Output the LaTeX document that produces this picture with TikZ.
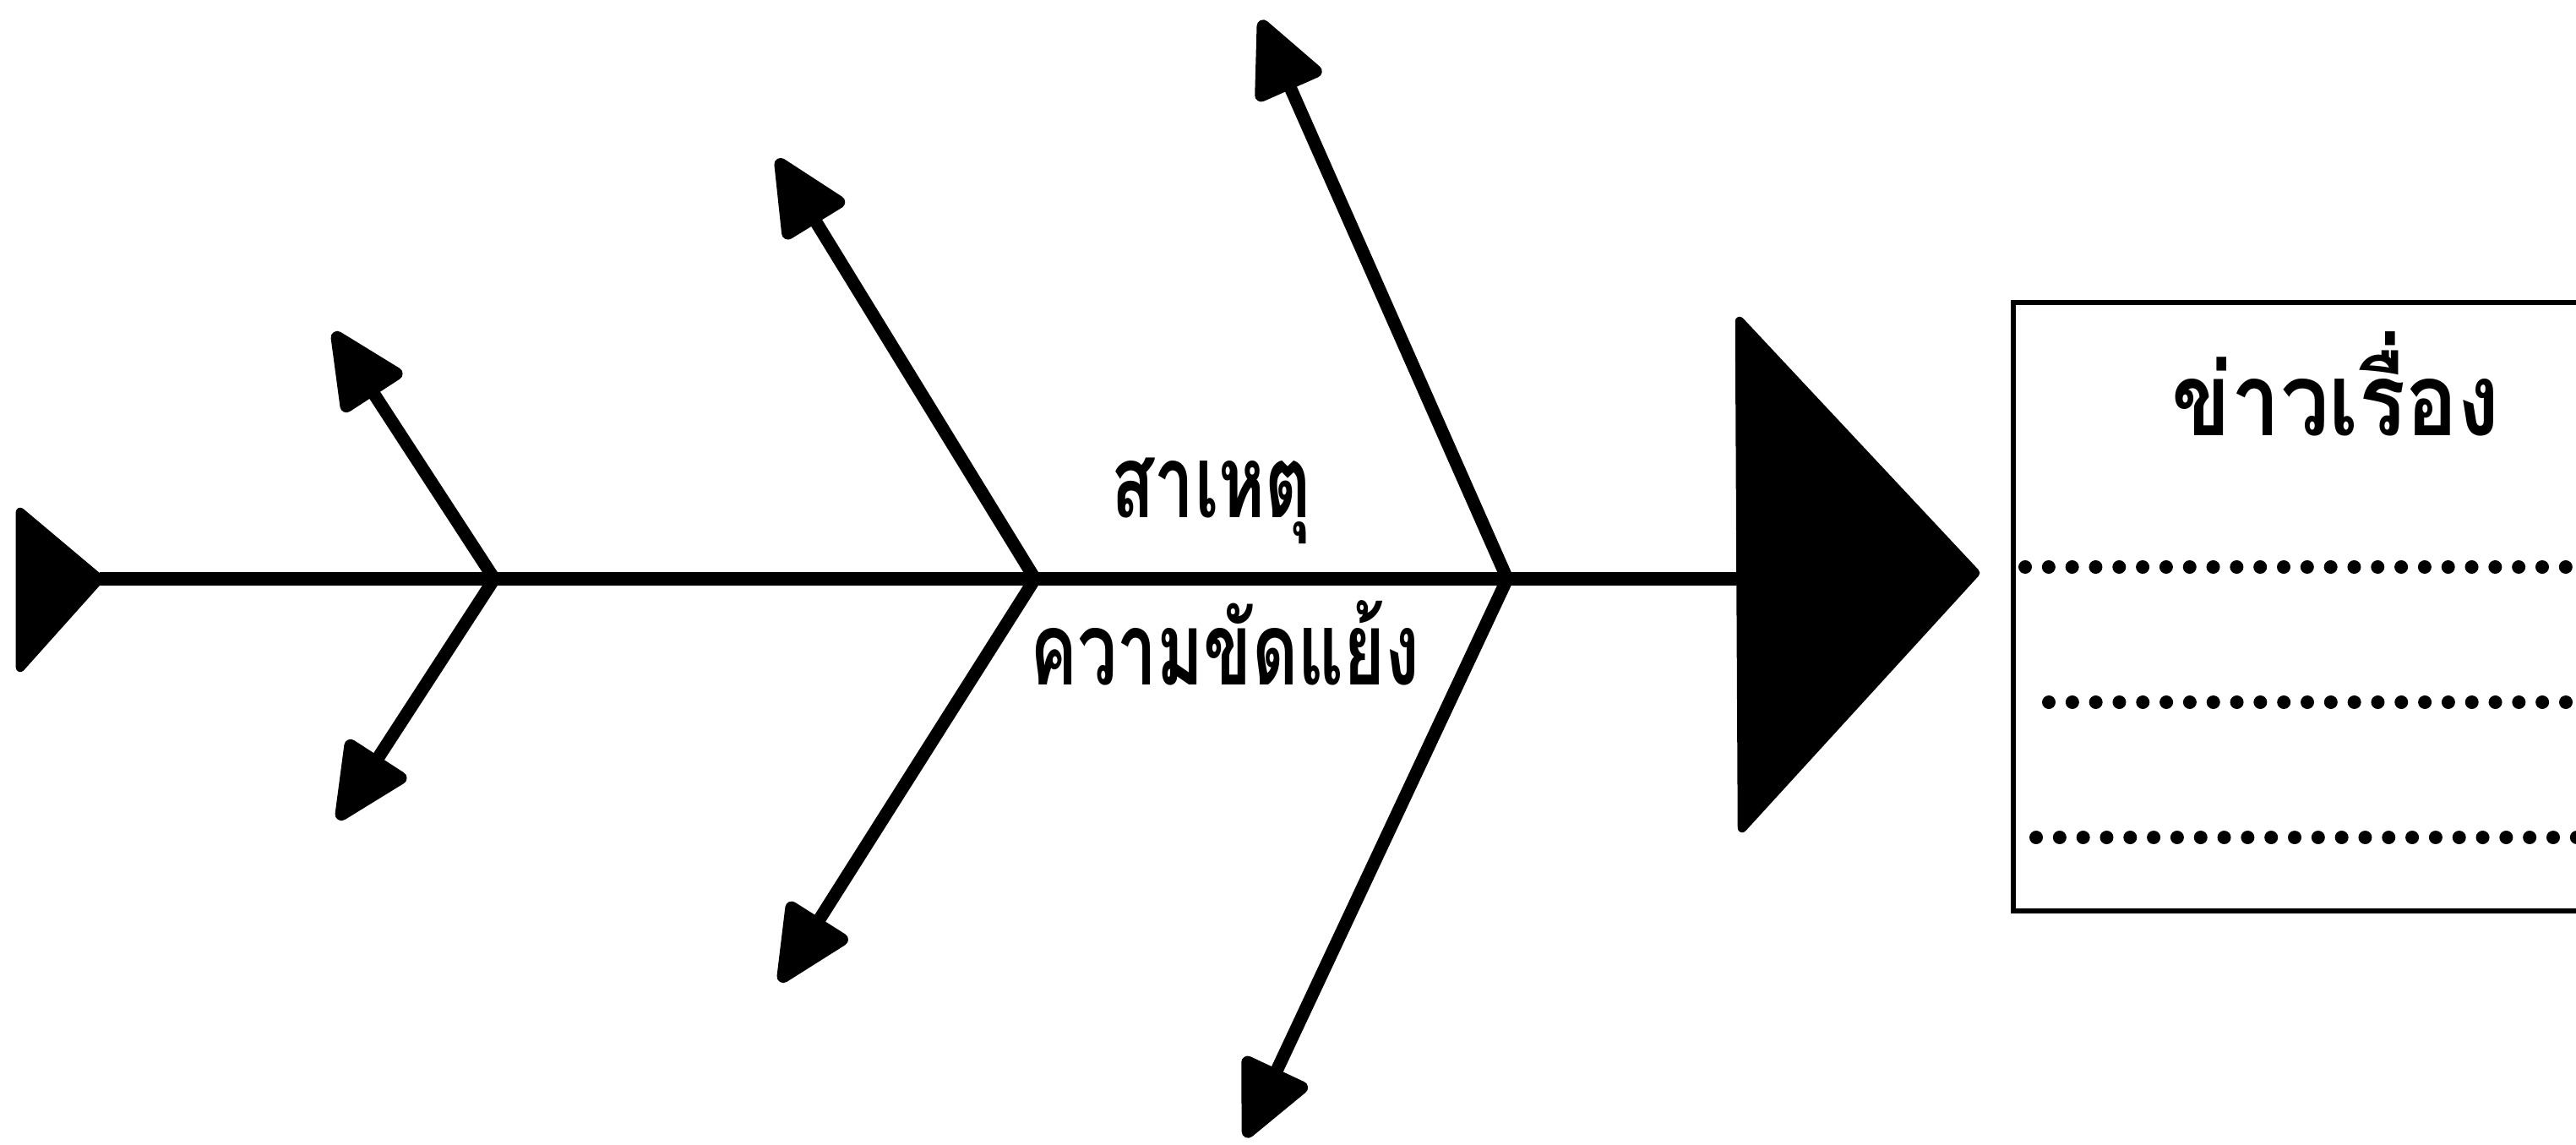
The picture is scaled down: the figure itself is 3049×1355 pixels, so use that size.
\documentclass[tikz,border=0pt]{standalone}
\usepackage{fontspec}
\newfontfamily\thaifont[Script=Thai,FakeStretch=0.7]{Loma}
\newfontfamily\thaititle[Script=Thai,FakeStretch=0.86]{Loma}
\usetikzlibrary{arrows.meta,positioning,calc}
\tikzset{
  spine/.style={line width=4.6pt,black},
  bone/.style={line width=4.3pt,black,-{Triangle[length=10mm,width=9mm,round]}},
  fin/.style={fill=black,draw=black,line width=3pt,line join=round},
  lbl/.style={font=\thaifont\bfseries\fontsize{34}{40}\selectfont,inner sep=0pt,anchor=base},
  ttl/.style={lbl,font=\thaititle\bfseries\fontsize{34}{40}\selectfont},
  panel/.style={line width=1.7pt,black},
  dotrow/.style={line width=0.16cm,line cap=round,dash pattern=on 0pt off 0.278cm},
}

\begin{document}
\begin{tikzpicture}[x=0.01cm,y=-0.01cm]
  \useasboundingbox (0,0) rectangle (3049,1355);
  \clip (0,0) rectangle (3049,1355);
  % tail and head of the fish
  \coordinate (tail) at (118,685);
  \coordinate (head) at (2060,685);
  \fill[fin] (24,606) -- (24,790) -- (tail) -- cycle;
  \fill[fin] (2059,380) -- (2062,980) -- (2338,678) -- cycle;
  \draw[spine] (tail) -- (head);
  % joints on the spine
  \foreach \n/\x in {a/585,b/1225,c/1784} \coordinate (\n) at (\x,685);
  % bones
  \foreach \n/\tx/\ty in {a/395/393,b/920/188,c/1492/24} \draw[bone] (\n) -- (\tx,\ty);
  \foreach \n/\tx/\ty in {a/400/970,b/923/1162,c/1474/1346} \draw[bone] (\n) -- (\tx,\ty);
  % labels
  \node[lbl] (cause) at (1434,612) {สาเหตุ};
  \node[lbl] (conflict) at (1450,810) {ความขัดแย้ง};
  % news panel
  \draw[panel] (3060,358) -- (2383,358) -- (2383,1078) -- (3060,1078);
  \node[ttl] (news) at (2765,515) {ข่าวเรื่อง};
  \foreach \y/\x in {671/2397,831/2425,991/2410} \draw[dotrow] (\x,\y) -- (3060,\y);
\end{tikzpicture}
\end{document}
